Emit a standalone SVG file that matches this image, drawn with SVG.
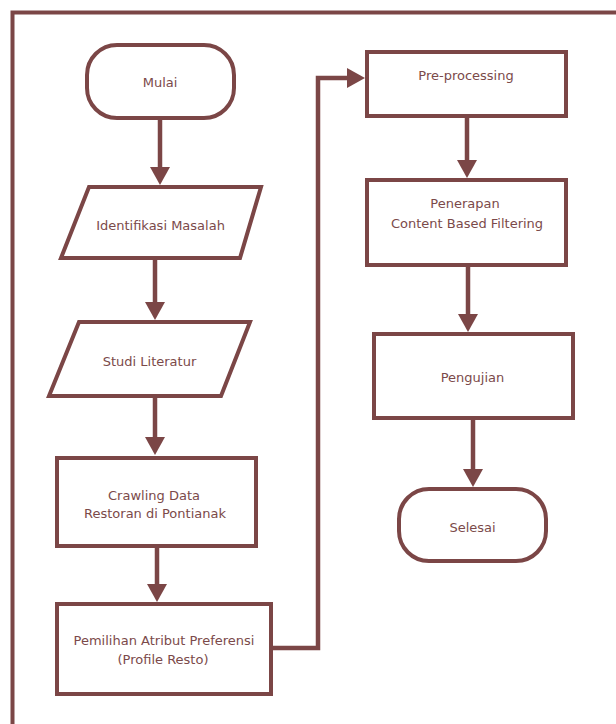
<svg xmlns="http://www.w3.org/2000/svg" width="616" height="724" viewBox="0 0 616 724">
<style>
.n{fill:#fff;stroke:#7B4646;stroke-width:4}
.t{font-family:"DejaVu Sans",Verdana,sans-serif;font-size:13px;fill:#7B4A4A;text-anchor:middle}
.c{fill:none;stroke:#7B4646;stroke-width:4.5}
</style>
<defs>
<marker id="ah" viewBox="0 0 18 20" refX="10" refY="10" markerWidth="18" markerHeight="20" markerUnits="userSpaceOnUse" orient="auto">
<path d="M0,0 L18,10 L0,20 Z" fill="#7B4646"/>
</marker>
</defs>
<rect width="616" height="724" fill="#fff"/>
<path d="M12.5,724 V12.5 H616" fill="none" stroke="#7B4646" stroke-width="4"/>
<g id="connectors">
<path class="c" d="M160,120 V177" marker-end="url(#ah)"/>
<path class="c" d="M155,260 V312" marker-end="url(#ah)"/>
<path class="c" d="M155,398 V447" marker-end="url(#ah)"/>
<path class="c" d="M157,548 V594" marker-end="url(#ah)"/>
<path class="c" d="M273,648 H318 V78 H357" marker-end="url(#ah)"/>
<path class="c" d="M467,118 V170" marker-end="url(#ah)"/>
<path class="c" d="M468,267 V324" marker-end="url(#ah)"/>
<path class="c" d="M473,420 V479" marker-end="url(#ah)"/>
</g>
<g id="mulai">
<rect class="n" x="87" y="45" width="147" height="73" rx="30" ry="30"/>
<text class="t" x="160" y="87">Mulai</text>
</g>
<g id="identifikasi">
<polygon class="n" points="89,187 261,187 240,258 61,258"/>
<text class="t" x="160.5" y="229.5">Identifikasi Masalah</text>
</g>
<g id="studi">
<polygon class="n" points="79,322 250,322 221,396 49,396"/>
<text class="t" x="149.5" y="365.5">Studi Literatur</text>
</g>
<g id="crawling">
<rect class="n" x="57" y="458" width="199" height="88"/>
<text class="t" x="154" y="499.5">Crawling Data</text>
<text class="t" x="155" y="517.5">Restoran di Pontianak</text>
</g>
<g id="pemilihan">
<rect class="n" x="57" y="604" width="214" height="90"/>
<text class="t" x="164" y="644.5">Pemilihan Atribut Preferensi</text>
<text class="t" x="163" y="663.5">(Profile Resto)</text>
</g>
<g id="preprocessing">
<rect class="n" x="367" y="52" width="199" height="64"/>
<text class="t" x="466" y="79.5">Pre-processing</text>
</g>
<g id="penerapan">
<rect class="n" x="367" y="180" width="199" height="85"/>
<text class="t" x="465" y="207.5">Penerapan</text>
<text class="t" x="467" y="227.5">Content Based Filtering</text>
</g>
<g id="pengujian">
<rect class="n" x="374" y="334" width="199" height="84"/>
<text class="t" x="472.5" y="381.5">Pengujian</text>
</g>
<g id="selesai">
<rect class="n" x="399" y="489" width="147" height="72" rx="30" ry="30"/>
<text class="t" x="472.5" y="531.5">Selesai</text>
</g>
</svg>
